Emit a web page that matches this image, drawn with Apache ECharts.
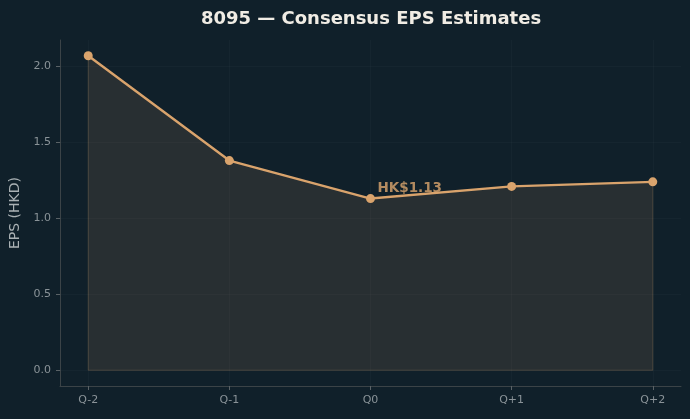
<!DOCTYPE html>
<html>
<head>
<meta charset="utf-8">
<script src="https://cdn.jsdelivr.net/npm/echarts@6/dist/echarts.min.js"></script>
<style>
html,body{margin:0;padding:0;background:#10202a;}
#main{width:690px;height:419px;}
</style>
</head>
<body>
<div id="main"></div>
<script>
var quarters = ['Q-2', 'Q-1', 'Q0', 'Q+1', 'Q+2'];
var eps = [2.07, 1.38, 1.13, 1.21, 1.24];
var yTicks = [0, 0.5, 1.0, 1.5, 2.0];
var currentIdx = 2;

var tan = '#d9a36c';
var font = 'DejaVu Sans';

var points = [];
for (var i = 0; i < eps.length; i++) {
    points.push([i, eps[i]]);
}
var last = eps.length - 1;
// outline of the filled area (sides and bottom)
var outline = [[0, eps[0]], [0, 0], [last, 0], [last, eps[last]]];
var xTicks = quarters.map(function(q, i){ return i; });

var myChart = echarts.init(document.getElementById('main'));
var option = {
    backgroundColor: '#10202a',
    animation: false,
    title: {
        text: '8095 — Consensus EPS Estimates',
        left: 366, top: 5, textAlign: 'center',
        textStyle: {color: '#f0ece4', fontSize: 18, fontWeight: 'bold', fontFamily: font}
    },
    grid: {left: 60, right: 9, top: 40, bottom: 33},
    xAxis: {
        type: 'value', min: -0.2, max: last + 0.2,
        axisLine: {onZero: false, lineStyle: {color: '#3b4347'}},
        axisTick: {customValues: xTicks, length: 4, lineStyle: {color: '#5a6266'}},
        axisLabel: {
            customValues: xTicks, color: '#8a9398', fontSize: 11, fontFamily: font, margin: 9,
            formatter: function(v){ return quarters[Math.round(v)]; }
        },
        splitLine: {show: false}
    },
    yAxis: {
        type: 'value', min: -0.1035, max: 2.1735,
        name: 'EPS (HKD)', nameLocation: 'middle', nameGap: 35, nameRotate: 90,
        nameTextStyle: {color: '#aab1b4', fontSize: 14, fontFamily: font},
        axisLine: {show: true, onZero: false, lineStyle: {color: '#3b4347'}},
        axisTick: {show: true, customValues: yTicks, length: 4, lineStyle: {color: '#5a6266'}},
        axisLabel: {
            customValues: yTicks, color: '#8a9398', fontSize: 11, fontFamily: font, margin: 9,
            formatter: function(v){ return v.toFixed(1); }
        },
        splitLine: {show: false}
    },
    series: [
        {
            type: 'line', data: outline, symbol: 'none', silent: true,
            lineStyle: {color: 'rgba(217,164,110,0.22)', width: 1}
        },
        {
            type: 'line', data: points, symbol: 'circle', symbolSize: 9,
            itemStyle: {color: tan},
            lineStyle: {color: tan, width: 2.4},
            areaStyle: {color: 'rgba(217,164,110,0.17)', origin: 0},
            markLine: {
                silent: true, symbol: 'none', label: {show: false},
                lineStyle: {color: 'rgba(255,255,255,0.025)', width: 1, type: 'solid'},
                data: xTicks.map(function(x){ return {xAxis: x}; })
                    .concat(yTicks.map(function(y){ return {yAxis: y}; }))
            }
        },
        {
            type: 'scatter', data: [[currentIdx, eps[currentIdx]]], symbolSize: 0, silent: true,
            z: 5,
            label: {
                show: true, position: 'right', offset: [2, -10],
                formatter: 'HK$' + eps[currentIdx].toFixed(2),
                color: '#dca66e', fontSize: 13.5, fontWeight: 'bold', fontFamily: font
            }
        }
    ]
};
myChart.setOption(option);
</script>
</body>
</html>
